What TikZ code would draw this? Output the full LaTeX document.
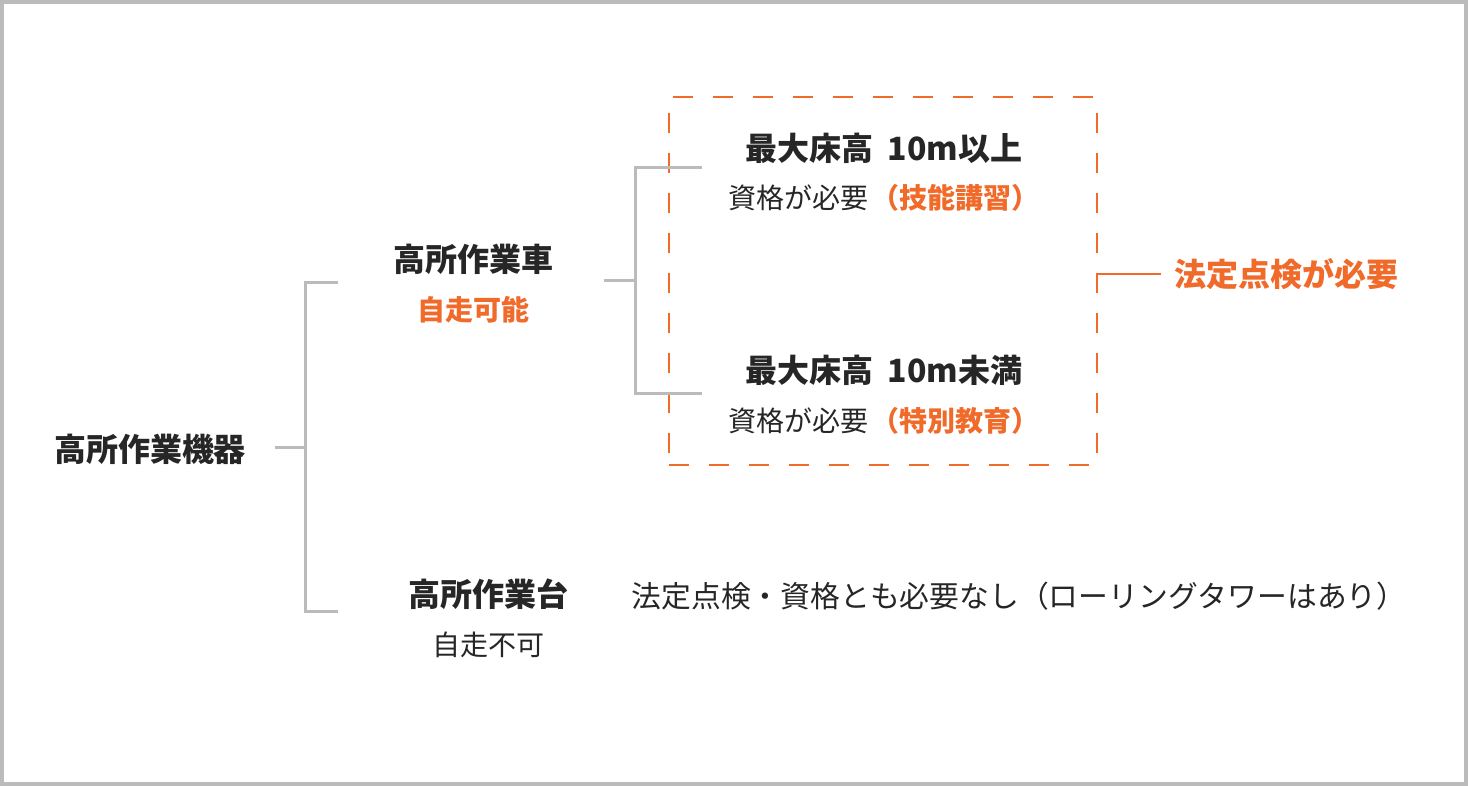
\documentclass[tikz,border=0pt]{standalone}
\usepackage{fontspec}
\setmainfont{Noto Sans CJK JP}
\definecolor{lgray}{HTML}{BBBBBB}
\definecolor{org}{HTML}{F06A2A}
\definecolor{ink}{HTML}{262626}
\begin{document}
\begin{tikzpicture}
[x=1pt,y=-1pt,
 br/.style={draw=lgray,line width=3pt},
 orgline/.style={draw=org,line width=2pt},
 big/.style={font=\fontsize{32}{38}\selectfont\bfseries,text=ink,inner sep=0pt},
 bigorg/.style={big,text=org},
 sub/.style={font=\fontsize{28}{34}\selectfont,text=ink,inner sep=0pt},
 suborg/.style={sub,font=\fontsize{28}{34}\selectfont\bfseries,text=org},
 group/.style={draw=org,line width=2pt,dash pattern=on 20pt off 20pt,minimum width=428pt,minimum height=368pt,inner sep=0pt}]
\useasboundingbox (0,0) rectangle (1468,786);
\draw [draw=lgray,line width=4pt] (2,2) rectangle (1466,784);

\node [big] at (150,449) (kiki) {高所作業機器};
\node [big] at (473,259) (car) {高所作業車};
\node [suborg] at (473,310) (carsub) {自走可能};
\node [big] at (488,594) (dai) {高所作業台};
\node [sub] at (488,645) (daisub) {自走不可};
\node [big] at (884,148) (up) {最大床高\hspace{14pt}10m以上};
\node [sub] at (884,198) (upsub) {資格が必要\hspace{3pt}{\bfseries\color{org}（技能講習）}};
\node [big] at (884,370) (low) {最大床高\hspace{14pt}10m未満};
\node [sub] at (884,421) (lowsub) {資格が必要\hspace{3pt}{\bfseries\color{org}（特別教育）}};
\node [group] at (883,281) (grp) {};
\node [bigorg] at (1286,274) (hotei) {法定点検が必要};
\node [sub,font=\fontsize{29.8}{34}\selectfont] at (1019,596) (none) {法定点検・資格とも必要なし（ローリングタワーはあり）};

\coordinate (s1) at (275,447);
\coordinate (j1) at (305,447);
\coordinate (t1) at (338,283);
\coordinate (b1) at (338,611);
\coordinate (s2) at (604,281);
\coordinate (j2) at (635,281);
\coordinate (t2) at (702,168);
\coordinate (b2) at (702,394);
\coordinate (h1) at (1161,274);

\draw [br] (s1) -- (j1);
\draw [br] (t1) -| (j1) |- (b1);
\draw [br] (s2) -- (j2);
\draw [br] (t2) -| (j2) |- (b2);
\draw [orgline] (grp.east |- h1) -- (h1);
\end{tikzpicture}
\end{document}
